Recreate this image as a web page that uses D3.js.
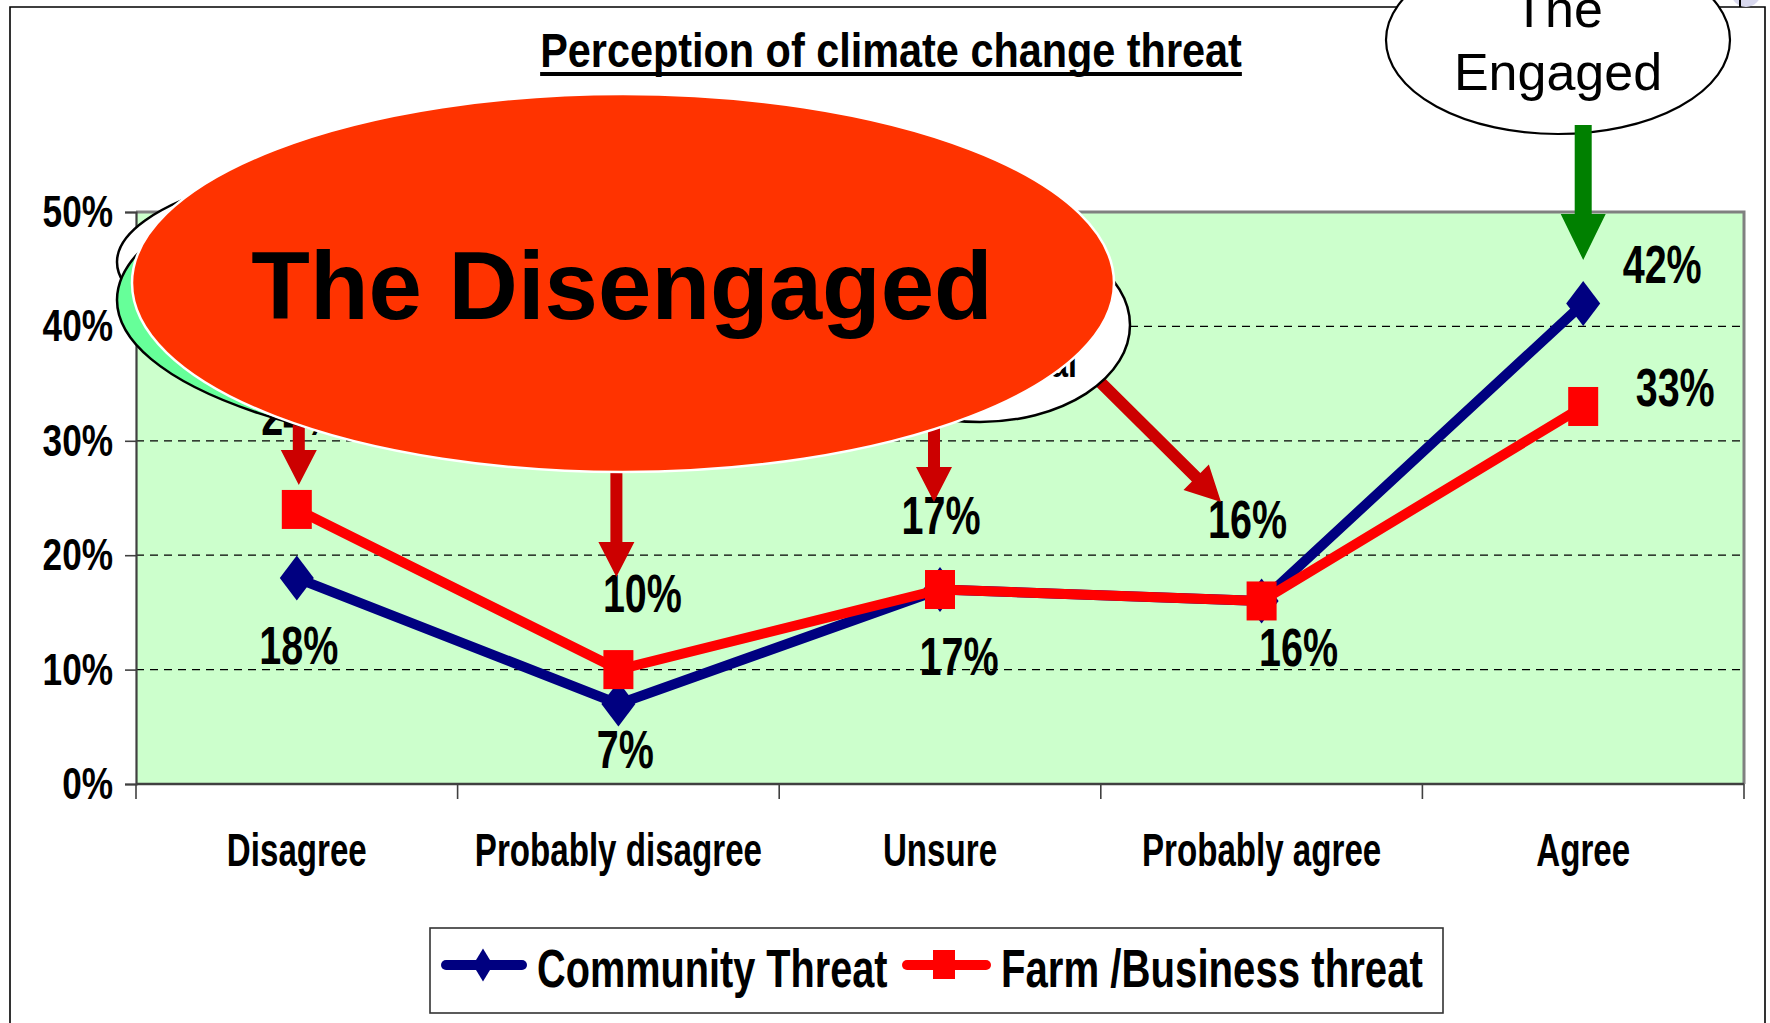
<!DOCTYPE html>
<html><head><meta charset="utf-8">
<script src="https://cdn.jsdelivr.net/npm/d3@7"></script>
<style>html,body{margin:0;padding:0;background:#fff;overflow:hidden}</style>
</head><body>
<svg id="c" width="1770" height="1023"></svg>
<script>
// ---- data ----
const categories = ["Disagree", "Probably disagree", "Unsure", "Probably agree", "Agree"];
const communityThreat = [18, 7, 17, 16, 42];
const farmBusinessThreat = [24, 10, 17, 16, 33];
const yTicks = [0, 10, 20, 30, 40, 50];
const gridTicks = [10, 20, 30, 40];
const seriesNames = ["Community Threat", "Farm /Business threat"];
const chartTitle = "Perception of climate change threat";
const calloutDisengaged = "The Disengaged";
const calloutEngaged = ["The", "Engaged"];
const calloutHidden = "Neutral";

// ---- layout ----
const svg = d3.select("#c");
const W = 1770, H = 1023;
const plot = {left: 136, right: 1744, top: 212, bottom: 784};
const x = d3.scaleBand().domain(categories).range([plot.left, plot.right]);
const y = d3.scaleLinear().domain([0, 50]).range([plot.bottom, plot.top]);
const xc = i => x(categories[i]) + x.bandwidth() / 2;
const FONT = "'Liberation Sans', Arial, Helvetica, sans-serif";

function ctext(parent, tx, ty, str, o) {
  const g = parent.append("g").attr("transform", `translate(${tx},${ty}) scale(${o.sx || 1},1)`);
  const t = g.append("text").attr("x", 0).attr("y", 0)
    .attr("text-anchor", o.anchor || "middle")
    .attr("font-family", FONT).attr("font-size", o.size)
    .attr("font-weight", o.weight || "bold").attr("fill", o.fill || "#000")
    .text(str);
  return t;
}
function arrowPath(x1, y1, x2, y2, sw, hw, hl) {
  const dx = x2 - x1, dy = y2 - y1, L = Math.hypot(dx, dy);
  const ux = dx / L, uy = dy / L, nx = -uy, ny = ux;
  const bx = x2 - ux * hl, by = y2 - uy * hl;
  const p = [
    [x1 + nx * sw / 2, y1 + ny * sw / 2],
    [bx + nx * sw / 2, by + ny * sw / 2],
    [bx + nx * hw / 2, by + ny * hw / 2],
    [x2, y2],
    [bx - nx * hw / 2, by - ny * hw / 2],
    [bx - nx * sw / 2, by - ny * sw / 2],
    [x1 - nx * sw / 2, y1 - ny * sw / 2]
  ];
  return "M" + p.map(d => d.join(",")).join("L") + "Z";
}

svg.append("rect").attr("width", W).attr("height", H).attr("fill", "#fff");
// outer frame
svg.append("path").attr("d", `M10,${H + 5} L10,7 L1765,7 L1765,${H + 5}`)
  .attr("fill", "none").attr("stroke", "#000").attr("stroke-width", 1.6);

// plot area
svg.append("rect").attr("x", plot.left).attr("y", plot.top)
  .attr("width", plot.right - plot.left).attr("height", plot.bottom - plot.top)
  .attr("fill", "#CCFFCC");
svg.append("g").selectAll("line").data(gridTicks).join("line")
  .attr("x1", plot.left).attr("x2", plot.right)
  .attr("y1", d => y(d)).attr("y2", d => y(d))
  .attr("stroke", "#000").attr("stroke-width", 1.2).attr("stroke-dasharray", "8,6");
svg.append("path").attr("d", `M${plot.left},${plot.top} L${plot.right},${plot.top} L${plot.right},${plot.bottom}`)
  .attr("fill", "none").attr("stroke", "#808080").attr("stroke-width", 3);

// y axis
const yAxis = svg.append("g").attr("transform", `translate(${plot.left},0)`)
  .call(d3.axisLeft(y).tickValues(yTicks).tickSize(11).tickFormat(""));
yAxis.select(".domain").attr("stroke", "#404040").attr("stroke-width", 2.2);
yAxis.selectAll(".tick line").attr("stroke", "#404040").attr("stroke-width", 1.6);
yTicks.forEach(v => ctext(svg, 113, y(v) + 15, v + "%", {size: 44, sx: 0.8, anchor: "end"}));

// x axis
svg.append("line").attr("x1", plot.left).attr("x2", plot.right)
  .attr("y1", plot.bottom).attr("y2", plot.bottom)
  .attr("stroke", "#404040").attr("stroke-width", 2.6);
const bounds = categories.map(c => x(c)).concat([x(categories[categories.length - 1]) + x.bandwidth()]);
svg.append("g").selectAll("line").data(bounds).join("line")
  .attr("x1", d => d).attr("x2", d => d)
  .attr("y1", plot.bottom).attr("y2", plot.bottom + 15)
  .attr("stroke", "#404040").attr("stroke-width", 1.6);
categories.forEach((c, i) => ctext(svg, xc(i), 866, c, {size: 46, sx: 0.72}));

// series
const line = d3.line().x((d, i) => xc(i)).y(d => y(d));
const navy = "#000080", red = "#FF0000";
const diamond = (w, h) => `M0,${-h / 2}L${w / 2},0L0,${h / 2}L${-w / 2},0Z`;
svg.append("path").datum(communityThreat).attr("d", line)
  .attr("fill", "none").attr("stroke", navy).attr("stroke-width", 10).attr("stroke-linejoin", "round");
svg.append("g").selectAll("path").data(communityThreat).join("path")
  .attr("transform", (d, i) => `translate(${xc(i)},${y(d)})`)
  .attr("d", diamond(34, 45)).attr("fill", navy);
svg.append("path").datum(farmBusinessThreat).attr("d", line)
  .attr("fill", "none").attr("stroke", red).attr("stroke-width", 10).attr("stroke-linejoin", "round");
svg.append("g").selectAll("rect").data(farmBusinessThreat).join("rect")
  .attr("x", (d, i) => xc(i) - 15).attr("y", d => y(d) - 19.5)
  .attr("width", 30).attr("height", 39).attr("fill", red);

// data labels (offsets relative to points)
const commOff = [[2, 86], [7, 64], [19, 85], [37, 65], [79, -21]];
const farmOff = [[4, -74], [24, -58], [1, -56], [-14, -63], [92, 0]];
communityThreat.forEach((v, i) => ctext(svg, xc(i) + commOff[i][0], y(v) + commOff[i][1], v + "%", {size: 53, sx: 0.745}));
farmBusinessThreat.forEach((v, i) => ctext(svg, xc(i) + farmOff[i][0], y(v) + farmOff[i][1], v + "%", {size: 53, sx: 0.745}));

// dark red arrows
const dred = "#CC0000";
const arrows = [
  [xc(0) + 2, 300, xc(0) + 2, 485],
  [xc(1) - 2, 473, xc(1) - 2, 577],
  [xc(2) - 6, 420, xc(2) - 6, 502],
  [1080, 362, 1221, 502]
];
arrows.forEach(a => svg.append("path").attr("d", arrowPath(a[0], a[1], a[2], a[3], 12, 36, 35)).attr("fill", dred));

// hidden callouts behind the Disengaged bubble
svg.append("ellipse").attr("cx", 517).attr("cy", 262).attr("rx", 400).attr("ry", 113)
  .attr("fill", "#fff").attr("stroke", "#000").attr("stroke-width", 2.5);
svg.append("ellipse").attr("cx", 600).attr("cy", 300).attr("rx", 483).attr("ry", 160)
  .attr("fill", "#66FF99").attr("stroke", "#000").attr("stroke-width", 2.5);
svg.append("ellipse").attr("cx", 980).attr("cy", 325).attr("rx", 150).attr("ry", 97)
  .attr("fill", "#fff").attr("stroke", "#000").attr("stroke-width", 2.5);
ctext(svg, 1077, 377, calloutHidden, {size: 40, sx: 0.8, anchor: "end"});

// The Disengaged
svg.append("ellipse").attr("cx", 623).attr("cy", 283).attr("rx", 491).attr("ry", 189)
  .attr("fill", "#FF3300").attr("stroke", "#fff").attr("stroke-width", 2.5);
ctext(svg, 622, 319, calloutDisengaged, {size: 96, sx: 1});

// The Engaged
svg.append("ellipse").attr("cx", 1558).attr("cy", 40).attr("rx", 172).attr("ry", 94)
  .attr("fill", "#fff").attr("stroke", "#000").attr("stroke-width", 2.2);
ctext(svg, 1558, 27, calloutEngaged[0], {size: 52, weight: "normal"});
ctext(svg, 1558, 90, calloutEngaged[1], {size: 52, weight: "normal"});
svg.append("path").attr("d", arrowPath(xc(4), 125, xc(4), 260, 17, 45, 46)).attr("fill", "#008000");

// small corner artefact
svg.append("circle").attr("cx", 1746).attr("cy", -8).attr("r", 15).attr("fill", "#d8d8ee");
svg.append("line").attr("x1", 1740).attr("x2", 1740).attr("y1", 0).attr("y2", 7).attr("stroke", "#000").attr("stroke-width", 2);

// legend
const lg = svg.append("g");
lg.append("rect").attr("x", 430).attr("y", 928).attr("width", 1013).attr("height", 85)
  .attr("fill", "#fff").attr("stroke", "#333").attr("stroke-width", 1.6);
lg.append("line").attr("x1", 446).attr("x2", 522).attr("y1", 965).attr("y2", 965)
  .attr("stroke", navy).attr("stroke-width", 10).attr("stroke-linecap", "round");
lg.append("path").attr("transform", "translate(483,965)").attr("d", diamond(20, 33)).attr("fill", navy);
ctext(lg, 537, 987, seriesNames[0], {size: 54, sx: 0.735, anchor: "start"});
lg.append("line").attr("x1", 907).attr("x2", 986).attr("y1", 965).attr("y2", 965)
  .attr("stroke", red).attr("stroke-width", 10).attr("stroke-linecap", "round");
lg.append("rect").attr("x", 933).attr("y", 950).attr("width", 22).attr("height", 29).attr("fill", red);
ctext(lg, 1001, 987, seriesNames[1], {size: 54, sx: 0.744, anchor: "start"});

// title
const tt = ctext(svg, 891, 67, chartTitle, {size: 49, sx: 0.845});
const tw = tt.node().getComputedTextLength() * 0.845;
svg.append("rect").attr("x", 891 - tw / 2).attr("y", 72).attr("width", tw).attr("height", 4).attr("fill", "#000");
</script>
</body></html>
